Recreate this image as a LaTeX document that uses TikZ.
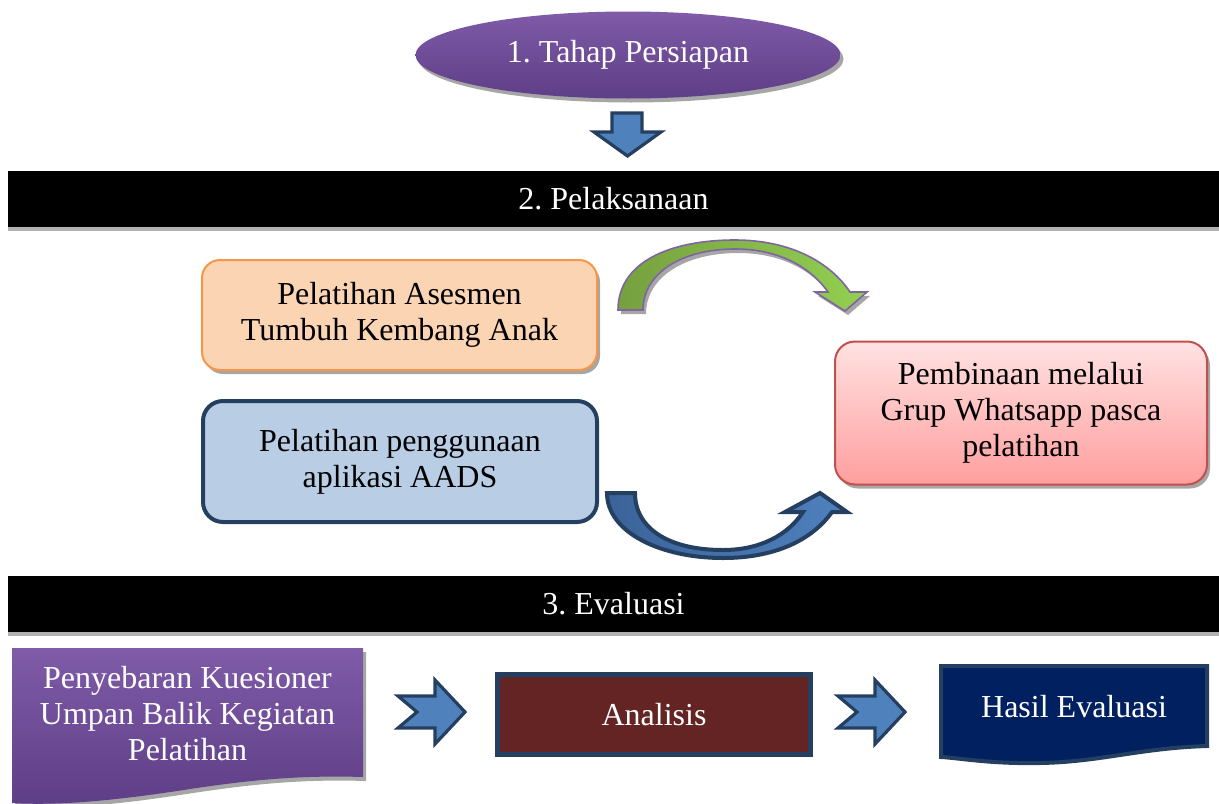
\documentclass[tikz,border=0pt]{standalone}
\usepackage{fontspec}
\setmainfont{Liberation Serif}
\usepackage{xcolor}
\usetikzlibrary{shapes.geometric,shadows}
\frenchspacing

\definecolor{prpTop}{HTML}{7F5BA8}
\definecolor{prpBot}{HTML}{5E3E86}
\definecolor{arrFill}{HTML}{4F81BD}
\definecolor{arrDark}{HTML}{3B6399}
\definecolor{arrLine}{HTML}{243F60}
\definecolor{orgFill}{HTML}{FBD4B4}
\definecolor{orgLine}{HTML}{F79646}
\definecolor{bluFill}{HTML}{B9CDE5}
\definecolor{pnkTop}{HTML}{FFE2E2}
\definecolor{pnkBot}{HTML}{FF9E9E}
\definecolor{pnkLine}{HTML}{C0504D}
\definecolor{grnDark}{HTML}{76A03F}
\definecolor{grnLight}{HTML}{92D050}
\definecolor{grnLine}{HTML}{8064A2}
\definecolor{anaFill}{HTML}{632423}
\definecolor{navy}{HTML}{002060}

\begin{document}
\begin{tikzpicture}[x=0.5pt, y=-0.5pt,
  font=\fontsize{16}{18}\selectfont,
  wshadow/.style={drop shadow={shadow xshift=1.5pt, shadow yshift=-2pt,
      fill=black!35, opacity=1}},
  band/.style={fill=black, text=white, inner sep=0pt,
      minimum width=605.5pt, minimum height=28pt,
      drop shadow={shadow xshift=0pt, shadow yshift=-2pt, fill=black!30, opacity=1}},
  stepbox/.style={rectangle, rounded corners=9pt, align=center, inner sep=0pt},
  blockarr/.style={fill=arrFill, draw=arrLine, line width=1.6pt, line join=miter},
  notcharr/.pic={\draw[blockarr] (-33,-16) -- (4,-16) -- (4,-32) -- (34,0)
      -- (4,32) -- (4,16) -- (-33,16) -- (-14,0) -- cycle;}]
  \useasboundingbox (0,0) rectangle (1219,803);

  % 1. persiapan
  \node[ellipse, minimum width=212.5pt, minimum height=43.5pt, inner sep=0pt,
        top color=prpTop, bottom color=prpBot, text=white, wshadow]
        (prep) at (628,55) {1. Tahap Persiapan};
  \draw[blockarr] (612,113) -- (642,113) -- (642,132) -- (661,132) -- (627.5,156)
        -- (594,132) -- (612,132) -- cycle;

  % 2. pelaksanaan
  \node[band] (exec) at (613.5,199) {2. Pelaksanaan};
  \node[stepbox, minimum width=197.5pt, minimum height=55pt, fill=orgFill,
        draw=orgLine, line width=1pt, wshadow]
        (asesmen) at (399.5,315) {Pelatihan Asesmen\\Tumbuh Kembang Anak};
  \node[stepbox, rounded corners=10pt, minimum width=197pt, minimum height=60.5pt,
        fill=bluFill, draw=arrLine, line width=2pt]
        (aads) at (400,461.5) {Pelatihan penggunaan\\aplikasi AADS};
  \node[stepbox, rounded corners=10pt, minimum width=186pt, minimum height=71.5pt,
        top color=pnkTop, bottom color=pnkBot, draw=pnkLine, line width=1pt, wshadow]
        (wa) at (1021,413) {Pembinaan melalui\\Grup Whatsapp pasca\\pelatihan};

  \draw[left color=grnDark, right color=grnLight, draw=grnLine, line width=0.8pt,
        line join=miter, wshadow]
    (618,310) .. controls (618,262) and (670,240) .. (735,240)
    .. controls (790,240) and (830,262) .. (850,292) -- (867,292) -- (845,311)
    -- (815,292) -- (828,292) .. controls (808,264) and (775,249) .. (735,249)
    .. controls (682,249) and (643,273) .. (643,310) -- cycle;
  \draw[left color=arrDark, right color=arrFill, draw=arrLine, line width=2pt,
        line join=miter]
    (607,493) .. controls (607,532) and (660,558) .. (723,558)
    .. controls (775,558) and (812,540) .. (832,512) -- (847,512) -- (820,493)
    -- (785,512) -- (803,512) .. controls (788,535) and (760,550) .. (723,550)
    .. controls (668,550) and (635,528) .. (635,493) -- cycle;

  % 3. evaluasi
  \node[band] (eval) at (613.5,603.5) {3. Evaluasi};
  \path[top color=prpTop, bottom color=prpBot, wshadow]
    (12,648) -- (363,648) -- (363,777) .. controls (300,775) and (250,780) .. (190,789)
    .. controls (120,800) and (60,806) .. (12,803) -- cycle;
  \node[align=center, text=white] (kuesioner) at (187.5,714)
    {Penyebaran Kuesioner\\Umpan Balik Kegiatan\\Pelatihan};
  \node[rectangle, minimum width=156.5pt, minimum height=40pt, fill=anaFill,
        draw=arrLine, line width=2.5pt, text=white] (analisis) at (654,714.5) {Analisis};
  \draw[fill=navy, draw=arrLine, line width=2pt]
    (941,666) -- (1207,666) -- (1207,746) .. controls (1140,748) and (1100,762) .. (1040,763)
    .. controls (990,764) and (960,758) .. (941,757) -- cycle;
  \node[text=white] (hasil) at (1074,707) {Hasil Evaluasi};
  \foreach \c in {431,871} \pic at (\c,712) {notcharr};
\end{tikzpicture}
\end{document}
